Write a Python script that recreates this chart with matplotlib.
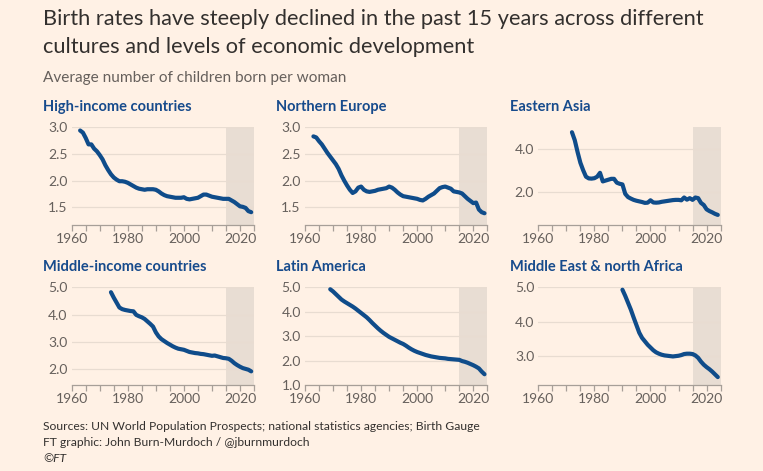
import numpy as np
import matplotlib
matplotlib.use("Agg")
import matplotlib.pyplot as plt
from matplotlib.ticker import MultipleLocator, FixedLocator

# ---- data (total fertility rate) ----
high_years = list(range(1963, 2025))
high_income = [2.94, 2.90, 2.80, 2.68, 2.68, 2.60, 2.55, 2.48, 2.40, 2.29,
               2.20, 2.12, 2.06, 2.02, 1.99, 1.99, 1.98, 1.96, 1.93, 1.90,
               1.87, 1.85, 1.84, 1.83, 1.84, 1.84, 1.84, 1.83, 1.80, 1.76,
               1.73, 1.71, 1.70, 1.69, 1.68, 1.68, 1.68, 1.69, 1.66, 1.65,
               1.66, 1.67, 1.68, 1.71, 1.74, 1.74, 1.72, 1.70, 1.69, 1.68,
               1.67, 1.66, 1.66, 1.66, 1.63, 1.60, 1.56, 1.52, 1.51, 1.49,
               1.43, 1.41]

neu_years = list(range(1963, 2025))
northern_europe = [2.83, 2.81, 2.74, 2.68, 2.60, 2.52, 2.45, 2.38, 2.31, 2.22,
                   2.10, 2.00, 1.91, 1.83, 1.77, 1.80, 1.87, 1.89, 1.83, 1.80,
                   1.79, 1.80, 1.81, 1.83, 1.84, 1.85, 1.86, 1.89, 1.87, 1.83,
                   1.78, 1.74, 1.71, 1.70, 1.69, 1.68, 1.67, 1.66, 1.64, 1.63,
                   1.66, 1.70, 1.73, 1.76, 1.81, 1.86, 1.88, 1.89, 1.87, 1.85,
                   1.80, 1.79, 1.78, 1.76, 1.71, 1.66, 1.62, 1.58, 1.59, 1.46,
                   1.41, 1.39]

easia_years = list(range(1972, 2025))
eastern_asia = [4.77, 4.40, 3.85, 3.35, 3.00, 2.70, 2.62, 2.61, 2.63, 2.70,
                2.88, 2.48, 2.52, 2.56, 2.60, 2.60, 2.42, 2.37, 2.34, 1.90,
                1.75, 1.68, 1.62, 1.58, 1.55, 1.52, 1.48, 1.49, 1.60, 1.50,
                1.49, 1.50, 1.53, 1.55, 1.57, 1.59, 1.61, 1.62, 1.62, 1.60,
                1.73, 1.63, 1.70, 1.62, 1.73, 1.70, 1.48, 1.38, 1.18, 1.10,
                1.04, 0.97, 0.92]

mid_years = list(range(1974, 2025))
middle_income = [4.82, 4.62, 4.44, 4.26, 4.20, 4.17, 4.15, 4.13, 4.12, 3.99,
                 3.94, 3.90, 3.84, 3.75, 3.66, 3.56, 3.35, 3.20, 3.10, 3.03,
                 2.96, 2.90, 2.84, 2.79, 2.75, 2.73, 2.71, 2.67, 2.63, 2.61,
                 2.59, 2.58, 2.56, 2.55, 2.53, 2.51, 2.49, 2.50, 2.47, 2.44,
                 2.41, 2.40, 2.38, 2.31, 2.22, 2.15, 2.09, 2.04, 2.01, 1.98,
                 1.92]

latam_years = list(range(1969, 2025))
latin_america = [4.92, 4.83, 4.72, 4.61, 4.50, 4.42, 4.35, 4.28, 4.21, 4.13,
                 4.04, 3.95, 3.86, 3.77, 3.66, 3.54, 3.43, 3.32, 3.22, 3.13,
                 3.05, 2.97, 2.91, 2.85, 2.79, 2.73, 2.68, 2.61, 2.53, 2.46,
                 2.40, 2.35, 2.31, 2.27, 2.23, 2.20, 2.17, 2.15, 2.13, 2.11,
                 2.10, 2.09, 2.07, 2.06, 2.05, 2.04, 2.03, 1.98, 1.95, 1.91,
                 1.86, 1.81, 1.75, 1.68, 1.55, 1.44]

mena_years = list(range(1990, 2025))
mena = [4.93, 4.75, 4.55, 4.35, 4.12, 3.90, 3.68, 3.53, 3.43, 3.33,
        3.25, 3.17, 3.11, 3.07, 3.04, 3.02, 3.01, 3.00, 2.99, 3.00,
        3.01, 3.03, 3.06, 3.07, 3.07, 3.06, 3.02, 2.95, 2.84, 2.75,
        2.68, 2.62, 2.55, 2.47, 2.39]

panel_titles = ["High-income countries", "Northern Europe", "Eastern Asia",
                "Middle-income countries", "Latin America", "Middle East & north Africa"]
panel_years = [high_years, neu_years, easia_years, mid_years, latam_years, mena_years]
panel_values = [high_income, northern_europe, eastern_asia, middle_income, latin_america, mena]
panel_ylims = [(1.17, 3.0), (1.17, 3.0), (0.45, 5.0), (1.42, 5.0), (1.0, 5.0), (2.16, 5.0)]
panel_yticks = [[1.5, 2.0, 2.5, 3.0], [1.5, 2.0, 2.5, 3.0], [2.0, 4.0],
                [2.0, 3.0, 4.0, 5.0], [1.0, 2.0, 3.0, 4.0, 5.0], [3.0, 4.0, 5.0]]

title = ("Birth rates have steeply declined in the past 15 years across different\n"
         "cultures and levels of economic development")
subtitle = "Average number of children born per woman"
sources = ["Sources: UN World Population Prospects; national statistics agencies; Birth Gauge",
           "FT graphic: John Burn-Murdoch / @jburnmurdoch",
           "\u00a9FT"]

# ---- style ----
BG = "#FFF1E5"
LINE = "#0F4C8A"
TITLE_BLUE = "#174B8C"
SHADE = "#E8DDD3"
GRID = "#E8DCD1"
TICK = "#A79F98"
GREY = "#66605C"
DARK = "#33302E"

plt.rcParams["font.family"] = ["Lato", "DejaVu Sans"]

W, H = 763, 471
fig = plt.figure(figsize=(W / 100, H / 100), dpi=100, facecolor=BG)

lefts = [71.7, 305.0, 538.3]
tops = [127.3, 287.3]
ax_w, ax_h = 182.3, 97.7

for i in range(6):
    r, c = divmod(i, 3)
    x0 = lefts[c]
    y0 = tops[r] + ax_h
    ax = fig.add_axes([x0 / W, 1 - y0 / H, ax_w / W, ax_h / H])
    ax.set_facecolor(BG)
    ax.axvspan(2015, 2025, color=SHADE, lw=0, zorder=0)
    ax.plot(panel_years[i], panel_values[i], color=LINE, lw=3.0,
            solid_capstyle="round", solid_joinstyle="round", zorder=3)
    ax.set_xlim(1960, 2025)
    ax.set_ylim(*panel_ylims[i])
    ax.xaxis.set_major_locator(FixedLocator([1960, 1980, 2000, 2020]))
    ax.xaxis.set_minor_locator(MultipleLocator(5))
    ax.set_yticks(panel_yticks[i])
    ax.set_yticklabels(["%.1f" % v for v in panel_yticks[i]])
    for s in ["top", "right", "left"]:
        ax.spines[s].set_visible(False)
    ax.spines["bottom"].set_color(TICK)
    ax.spines["bottom"].set_linewidth(0.9)
    ax.grid(axis="y", color=GRID, lw=0.9, zorder=1)
    ax.set_axisbelow(True)
    ax.tick_params(axis="x", which="both", length=4.5, width=0.9, color=TICK,
                   labelsize=10, labelcolor=GREY, pad=1.5)
    ax.tick_params(axis="y", length=0, labelsize=10, labelcolor=GREY, pad=3)
    fig.text((x0 - 28.5) / W, 1 - (tops[r] - 16) / H, panel_titles[i],
             fontsize=10.5, fontweight="bold", color=TITLE_BLUE, va="baseline")

fig.text(43 / W, 1 - 25 / H, title.split("\n")[0], fontsize=15.7, color=DARK, va="baseline")
fig.text(43 / W, 1 - 53 / H, title.split("\n")[1], fontsize=15.7, color=DARK, va="baseline")
fig.text(43 / W, 1 - 82 / H, subtitle, fontsize=11.1, color=GREY, va="baseline")
for k, line in enumerate(sources):
    fig.text(43 / W, 1 - (430.5 + 16 * k) / H, line, fontsize=8.7, color=DARK,
             va="baseline", style="italic" if k == 2 else "normal")

fig.savefig("out.png", dpi=100, facecolor=BG)
